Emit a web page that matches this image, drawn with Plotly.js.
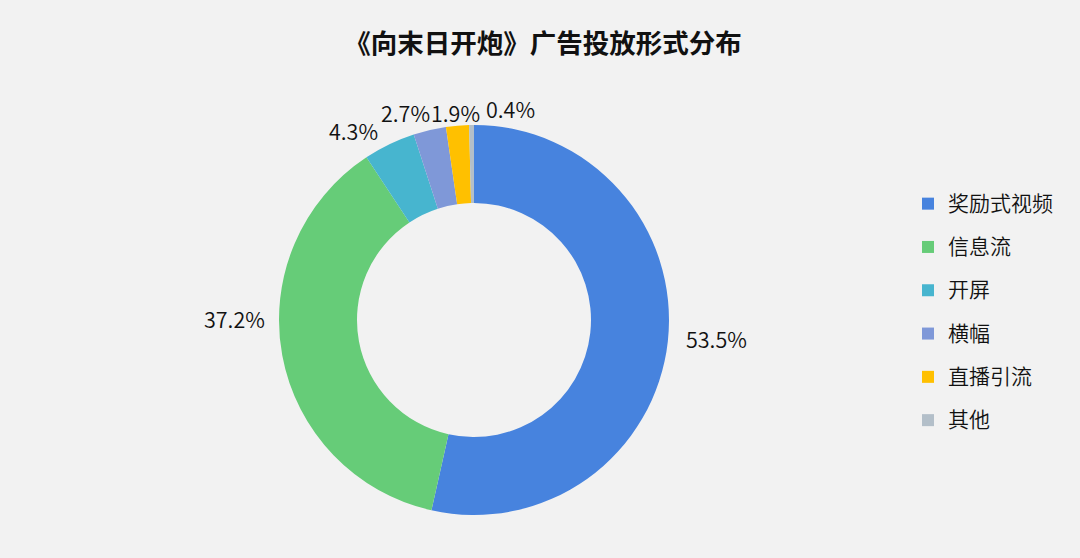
<!DOCTYPE html>
<html>
<head>
<meta charset="utf-8">
<script src="https://cdn.plot.ly/plotly-3.0.1.min.js"></script>
<style>
  html, body { margin: 0; padding: 0; background: #f2f2f2; }
  #chart { width: 1080px; height: 558px; }
</style>
</head>
<body>
<div id="chart"></div>
<script>
var labels = ['奖励式视频', '信息流', '开屏', '横幅', '直播引流', '其他'];
var shares = [53.5, 37.2, 4.3, 2.7, 1.9, 0.4];
var colors = ['#4783de', '#66cc78', '#47b5cf', '#7f98d8', '#ffc000', '#b3bfc9'];

// where each percent label sits (pixel centres, like the original layout)
var labelPos = [[716, 338], [234, 318], [353, 130], [405, 112], [455, 112], [510, 108]];

var W = 1080, H = 558;
var FONT = '"Noto Sans CJK SC", "Noto Sans", sans-serif';

// legend font is kept large so items get the wide spacing, the text itself is smaller
var legendNames = labels.map(function (l) {
  return '<span style="font-size:21px;baseline-shift:5px">' + l + '</span>';
});

var trace = {
  type: 'pie',
  labels: legendNames,
  values: shares,
  sort: false,
  direction: 'clockwise',
  rotation: 0,
  hole: 0.6,
  marker: { colors: colors, line: { width: 0 } },
  textinfo: 'none',
  domain: { x: [279 / W, 669 / W], y: [43 / H, 433 / H] },
  hoverinfo: 'label+percent'
};

var annotations = shares.map(function (v, i) {
  return {
    xref: 'paper', yref: 'paper',
    x: labelPos[i][0] / W, y: 1 - labelPos[i][1] / H,
    xanchor: 'center', yanchor: 'middle',
    text: v.toFixed(1) + '%',
    showarrow: false,
    font: { size: 21.5, color: '#111', family: FONT, weight: 350 }
  };
});

var layout = {
  width: W,
  height: H,
  margin: { l: 0, r: 0, t: 0, b: 0 },
  paper_bgcolor: '#f2f2f2',
  plot_bgcolor: '#f2f2f2',
  font: { family: FONT, color: '#111' },
  title: {
    text: '<b>《向末日开炮》广告投放形式分布</b>',
    font: { size: 26.5, color: '#111', family: FONT },
    x: 543 / W, xanchor: 'center',
    y: 1 - 44 / H, yanchor: 'middle'
  },
  annotations: annotations,
  showlegend: true,
  legend: {
    x: 908 / W, xanchor: 'left',
    y: 1 - 177 / H, yanchor: 'top',
    font: { size: 31, color: '#111', family: FONT, weight: 350 },
    bgcolor: 'rgba(0,0,0,0)'
  }
};

Plotly.newPlot('chart', [trace], layout, { displayModeBar: false });
</script>
</body>
</html>
